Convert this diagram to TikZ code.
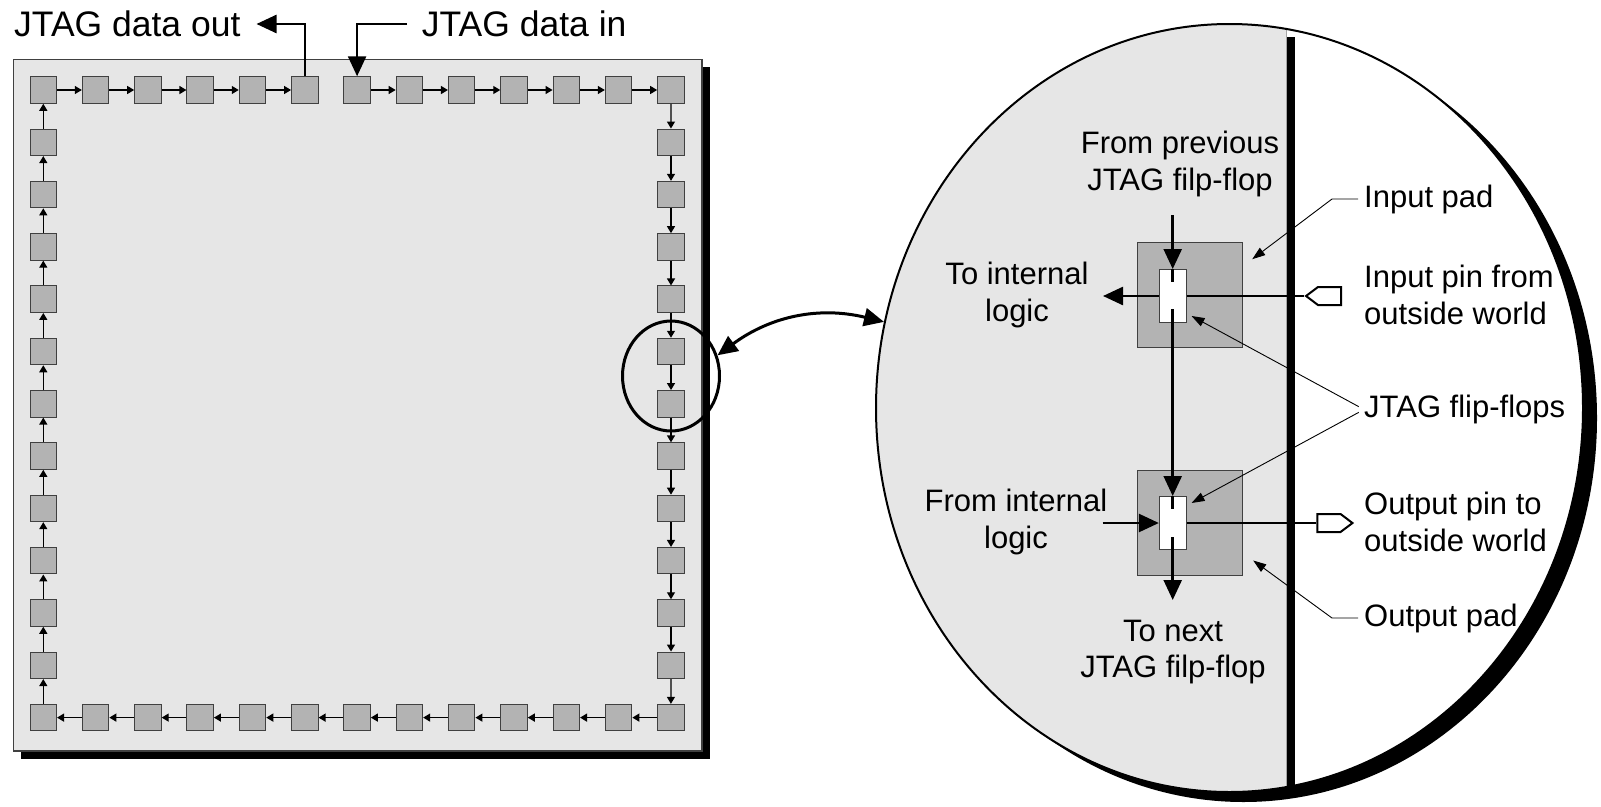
\documentclass[tikz,border=0pt]{standalone}
\usepackage{fontspec}
\setmainfont{Liberation Sans}
\usetikzlibrary{arrows.meta,shapes.geometric,shapes.symbols,calc}
\definecolor{chipgray}{HTML}{E6E6E6}
\definecolor{cellgray}{HTML}{B3B3B3}
\definecolor{edgegray}{HTML}{404040}
\begin{document}
\begin{tikzpicture}[x=1pt,y=-1pt,
  cellbox/.style={rectangle,draw=edgegray,line width=1pt,fill=cellgray,minimum size=26.5pt,inner sep=0pt},
  cellarrow/.style={line width=1.3pt,-{Triangle[length=7pt,width=8pt]}},
  sig/.style={line width=2.5pt},
  sigarrow/.style={sig,-{Triangle[length=20pt,width=18pt]}},
  leaderline/.style={line width=0.9pt,-{Triangle[length=13pt,width=9pt]}},
  lbl/.style={font=\fontsize{31pt}{36.5pt}\selectfont,inner sep=0pt},
  toplbl/.style={font=\fontsize{35.5pt}{40pt}\selectfont,inner sep=0pt},
  padbox/.style={rectangle,draw=edgegray,fill=cellgray,line width=1pt,minimum size=105pt,inner sep=0pt},
  ffbox/.style={rectangle,draw=edgegray,fill=white,line width=1pt,minimum width=26.7pt,minimum height=53pt,inner sep=0pt},
  pinshape/.style={signal,draw=black,fill=white,line width=2pt,minimum width=35pt,minimum height=18pt,inner sep=0pt,signal pointer angle=74}]
\useasboundingbox (0,0) rectangle (1601,806);

% chip with drop shadow
\fill (21.3,67.3) rectangle (710,759);
\draw[draw=edgegray,fill=chipgray,line width=1.3pt] (13.3,59.3) rectangle (702,751);

% boundary scan cells around the chip edge
\foreach \i in {0,...,12} {
  \node[cellbox] (c-\i-0) at ({43.3+52.3*\i},90) {};
  \node[cellbox] (c-\i-12) at ({43.3+52.3*\i},717.6) {};
}
\foreach \j in {1,...,11} {
  \node[cellbox] (c-0-\j) at (43.3,{90+52.3*\j}) {};
  \node[cellbox] (c-12-\j) at (671,{90+52.3*\j}) {};
}
% scan chain
\foreach \i in {0,1,2,3,4,6,7,8,9,10,11} {
  \pgfmathtruncatemacro\n{\i+1}
  \draw[cellarrow] (c-\i-0) -- (c-\n-0);
}
\foreach \j in {0,...,11} {
  \pgfmathtruncatemacro\n{\j+1}
  \draw[cellarrow] (c-12-\j) -- (c-12-\n);
}
\foreach \i in {1,...,12} {
  \pgfmathtruncatemacro\m{\i-1}
  \draw[cellarrow] (c-\i-12) -- (c-\m-12);
  \draw[cellarrow] (c-0-\i) -- (c-0-\m);
}

% data in / out
\node[toplbl,anchor=west] (dout) at (14,24) {JTAG data out};
\node[toplbl,anchor=west] (din) at (421.7,24) {JTAG data in};
\coordinate (doutTip) at (256.5,24);
\coordinate (dinStart) at (407,24);
\draw[sigarrow] (c-5-0.north) |- (doutTip);
\draw[sigarrow] (dinStart) -| (c-6-0.north);

% highlighted spot
\node[draw,ellipse,line width=3pt,minimum width=97pt,minimum height=110pt,inner sep=0pt] (spot) at (671,376) {};

% magnified view
\coordinate (mag) at (1229.5,408);
\fill ($(mag)+(14,10)$) ellipse [x radius=353.5,y radius=384];
\fill[white] (mag) ellipse [x radius=353.5,y radius=384];
\begin{scope}
  \clip (mag) ellipse [x radius=353.5,y radius=384];
  \fill[chipgray] (800,0) rectangle (1286,806);
  \draw[gray!70,line width=1pt] (1286,0) -- (1286,806);
  \fill (1287,36.7) rectangle (1295,806);
\end{scope}
\node[draw,ellipse,line width=2pt,minimum width=707pt,minimum height=768pt,inner sep=0pt] (lens) at (mag) {};

\draw[line width=3pt,{Triangle[length=20pt,width=18pt]}-{Triangle[length=20pt,width=18pt]}] (spot.24) to[bend left=25] (lens.166);

% pads and flip-flops
\node[padbox] (padA) at (1190.2,295.2) {};
\node[ffbox] (ffA) at (1172.7,296) {};
\node[padbox] (padB) at (1190.2,522.5) {};
\node[ffbox] (ffB) at (1172.7,523) {};
\node[pinshape,signal to=west] (pinA) at (1329.5,296) {};
\node[pinshape,signal to=east] (pinB) at (1329,523) {};

\coordinate (prevIn) at (1172.7,215);
\coordinate (toLogic) at (1103,296);
\coordinate (fromLogic) at (1102.7,523);
\coordinate (toNext) at (1172.7,600);

\draw[sigarrow] (prevIn) -- (ffA.north);
\draw[sig] (ffA.north) -- ++(0,13);
\draw[sig] (ffA.south) -- ++(0,-14);
\draw[sigarrow] (ffA.west) -- (toLogic);
\draw[sig] (ffA.east) -- (pinA.west);
\draw[sigarrow] (ffA.south) -- (ffB.north);
\draw[sig] (ffB.north) -- ++(0,13);
\draw[sig] (ffB.south) -- ++(0,-13);
\draw[sigarrow] (fromLogic) -- (ffB.west);
\draw[sig] (ffB.east) -- (pinB.west);
\draw[sigarrow] (ffB.south) -- (toNext);

% labels
\node[lbl,align=center] (lPrev) at (1180,164) {From previous\\JTAG filp-flop};
\node[lbl,align=center] (lToInt) at (1017,295) {To internal\\logic};
\node[lbl,align=center] (lFromInt) at (1016,522) {From internal\\logic};
\node[lbl,align=center] (lNext) at (1173,652) {To next\\JTAG filp-flop};
\node[lbl,anchor=west] (lInPad) at (1364,199) {Input pad};
\node[lbl,anchor=west,align=left] (lInPin) at (1364,295) {Input pin from\\outside world};
\node[lbl,anchor=west] (lFF) at (1364,409.5) {JTAG flip-flops};
\node[lbl,anchor=west,align=left] (lOutPin) at (1364,522) {Output pin to\\outside world};
\node[lbl,anchor=west] (lOutPad) at (1364,618) {Output pad};

% leaders
\draw[leaderline,shorten <=6pt] (lInPad.west) -- ++(-32,0) -- ($(padA.north east)+(9,17)$);
\draw[leaderline,shorten <=6pt] (lFF.west) -- ($(ffA.south east)+(5,-7)$);
\draw[leaderline,shorten <=6pt] (lFF.west) -- ($(ffB.north east)+(5,7)$);
\draw[leaderline,shorten <=6pt] (lOutPad.west) -- ++(-32,0) -- ($(padB.south east)+(10,-15)$);
\end{tikzpicture}
\end{document}
